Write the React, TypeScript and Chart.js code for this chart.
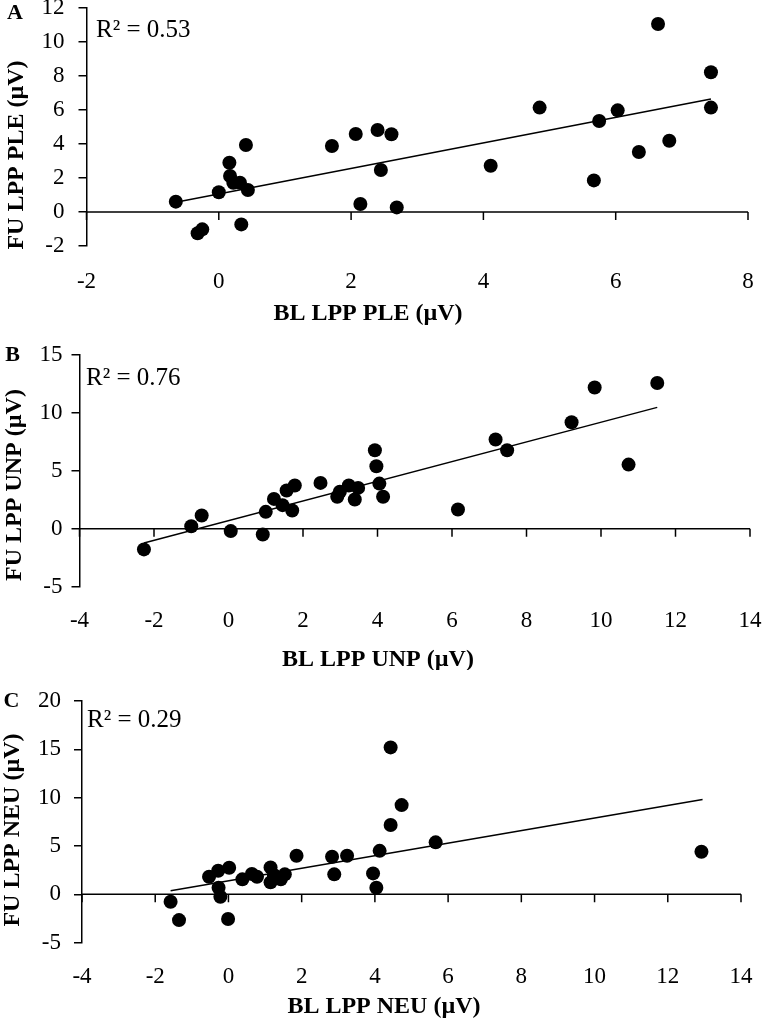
import React, { useEffect, useRef } from "react";
import { Chart, registerables } from "chart.js";

Chart.register(...registerables);

const FONT = "'Liberation Serif', 'Times New Roman', Times, serif";

// ---------- Panel A : PLE ----------
const A_BL = [-0.65, -0.32, -0.25, 0.0, 0.16, 0.17, 0.22, 0.32, 0.41, 0.44, 0.34, 1.71, 2.07, 2.14, 2.4, 2.45, 2.61, 2.69, 4.11, 4.85, 5.67, 5.75, 6.03, 6.35, 6.64, 6.81, 7.44, 7.44];
const A_FU = [0.61, -1.25, -1.02, 1.16, 2.9, 2.12, 1.72, 1.72, 3.94, 1.29, -0.73, 3.88, 4.59, 0.47, 4.82, 2.47, 4.57, 0.27, 2.72, 6.14, 1.86, 5.35, 5.98, 3.53, 11.06, 4.19, 8.22, 6.14];
const A_TREND_X = [-0.65, 7.44];
const A_TREND_Y = [0.57, 6.65];
const A_X_TICKS = [-2, 0, 2, 4, 6, 8];
const A_Y_TICKS = [-2, 0, 2, 4, 6, 8, 10, 12];

// ---------- Panel B : UNP ----------
const B_BL = [-2.27, -1.0, -0.72, 0.06, 0.92, 1.0, 1.22, 1.45, 1.56, 1.71, 1.78, 2.47, 2.92, 2.99, 3.23, 3.39, 3.48, 3.93, 3.97, 4.05, 4.15, 6.16, 7.17, 7.48, 9.21, 9.83, 10.74, 11.51];
const B_FU = [-1.78, 0.22, 1.15, -0.2, -0.49, 1.46, 2.58, 2.04, 3.3, 1.58, 3.73, 3.96, 2.76, 3.19, 3.73, 2.53, 3.53, 6.78, 5.4, 3.9, 2.76, 1.66, 7.7, 6.78, 9.19, 12.2, 5.54, 12.58];
const B_TREND_X = [-2.27, 11.51];
const B_TREND_Y = [-1.22, 10.48];
const B_X_TICKS = [-4, -2, 0, 2, 4, 6, 8, 10, 12, 14];
const B_Y_TICKS = [-5, 0, 5, 10, 15];

// ---------- Panel C : NEU ----------
const C_BL = [-1.58, -1.35, -0.53, -0.28, -0.27, -0.22, 0.02, -0.01, 0.38, 0.64, 0.78, 1.15, 1.15, 1.24, 1.43, 1.54, 1.86, 2.83, 2.89, 3.24, 3.95, 4.04, 4.13, 4.43, 4.73, 4.43, 5.66, 12.92];
const C_FU = [-0.76, -2.66, 1.82, 2.44, 0.69, -0.25, 2.75, -2.55, 1.55, 2.1, 1.82, 2.79, 1.24, 2.0, 1.55, 2.07, 3.99, 3.89, 2.07, 3.99, 2.17, 0.69, 4.5, 15.2, 9.23, 7.17, 5.38, 4.41];
const C_TREND_X = [-1.58, 12.95];
const C_TREND_Y = [0.38, 9.82];
const C_X_TICKS = [-4, -2, 0, 2, 4, 6, 8, 10, 12, 14];
const C_Y_TICKS = [-5, 0, 5, 10, 15, 20];

const R2_LABELS = ["R² = 0.53", "R² = 0.76", "R² = 0.29"];
const PANEL_LETTERS = ["A", "B", "C"];
const X_TITLES = ["BL LPP PLE (µV)", "BL LPP UNP (µV)", "BL LPP NEU (µV)"];
const Y_TITLES = ["FU LPP PLE (µV)", "FU LPP UNP (µV)", "FU LPP NEU (µV)"];

type Panel = {
  bl: number[];
  fu: number[];
  tx: number[];
  ty: number[];
  xTicks: number[];
  yTicks: number[];
  letter: string;
  r2: string;
  xTitle: string;
  yTitle: string;
  // layout (canvas coordinates)
  top: number;
  h: number;
  area: { left: number; right: number; top: number; bottom: number };
  xPad: number;
  yPad: number;
  letterPos: [number, number];
  r2Pos: [number, number];
  xTitlePos: [number, number];
  yTitlePos: [number, number];
};

const PANELS: Panel[] = [
  {
    bl: A_BL, fu: A_FU, tx: A_TREND_X, ty: A_TREND_Y, xTicks: A_X_TICKS, yTicks: A_Y_TICKS,
    letter: PANEL_LETTERS[0], r2: R2_LABELS[0], xTitle: X_TITLES[0], yTitle: Y_TITLES[0],
    top: 0, h: 330,
    area: { left: 86.5, right: 748, top: 8, bottom: 246 },
    xPad: 24.5, yPad: 14,
    letterPos: [15, 13.5], r2Pos: [96, 37], xTitlePos: [368, 314], yTitlePos: [17, 155],
  },
  {
    bl: B_BL, fu: B_FU, tx: B_TREND_X, ty: B_TREND_Y, xTicks: B_X_TICKS, yTicks: B_Y_TICKS,
    letter: PANEL_LETTERS[1], r2: R2_LABELS[1], xTitle: X_TITLES[1], yTitle: Y_TITLES[1],
    top: 330, h: 340,
    area: { left: 79.5, right: 750, top: 25, bottom: 256.7 },
    xPad: 22.8, yPad: 9,
    letterPos: [12.5, 25], r2Pos: [86, 55], xTitlePos: [378, 330], yTitlePos: [15, 155],
  },
  {
    bl: C_BL, fu: C_FU, tx: C_TREND_X, ty: C_TREND_Y, xTicks: C_X_TICKS, yTicks: C_Y_TICKS,
    letter: PANEL_LETTERS[2], r2: R2_LABELS[2], xTitle: X_TITLES[2], yTitle: Y_TITLES[2],
    top: 670, h: 350,
    area: { left: 82, right: 741, top: 31, bottom: 272.7 },
    xPad: 22.8, yPad: 13,
    letterPos: [11.5, 31.5], r2Pos: [87, 57], xTitlePos: [384, 337], yTitlePos: [13, 160],
  },
];

const decorPlugin = {
  id: "decor",
  beforeDatasetsDraw(chart: any, _args: any, opts: any) {
    const { ctx, chartArea } = chart;
    const xs = chart.scales.x;
    const ys = chart.scales.y;
    const y0 = ys.getPixelForValue(0);
    ctx.save();
    ctx.strokeStyle = "#000";
    ctx.lineWidth = 1.5;
    ctx.beginPath();
    ctx.moveTo(chartArea.left, y0);
    ctx.lineTo(chartArea.right, y0);
    xs.ticks.forEach((t: any) => {
      const px = xs.getPixelForValue(t.value);
      ctx.moveTo(px, y0);
      ctx.lineTo(px, y0 + 8);
    });
    ctx.stroke();
    ctx.restore();
  },
  afterDraw(chart: any, _args: any, opts: any) {
    const p: Panel = opts.panel;
    if (!p) return;
    const { ctx } = chart;
    ctx.save();
    ctx.fillStyle = "#000";
    // panel letter
    ctx.font = `bold 22px ${FONT}`;
    ctx.textAlign = "center";
    ctx.textBaseline = "middle";
    ctx.fillText(p.letter, p.letterPos[0], p.letterPos[1]);
    // R²
    ctx.font = `25px ${FONT}`;
    ctx.textAlign = "left";
    ctx.textBaseline = "alphabetic";
    ctx.fillText(p.r2, p.r2Pos[0], p.r2Pos[1]);
    // x title
    ctx.font = `bold 24px ${FONT}`;
    ctx.textAlign = "center";
    ctx.textBaseline = "middle";
    ctx.fillText(p.xTitle, p.xTitlePos[0], p.xTitlePos[1]);
    // y title
    ctx.translate(p.yTitlePos[0], p.yTitlePos[1]);
    ctx.rotate(-Math.PI / 2);
    ctx.fillText(p.yTitle, 0, 0);
    ctx.restore();
  },
};

function PanelChart({ p }: { p: Panel }) {
  const ref = useRef<HTMLCanvasElement>(null);
  useEffect(() => {
    if (!ref.current) return;
    const tickFont = { family: FONT, size: 23, lineHeight: 1 };
    const chart = new Chart(ref.current, {
      type: "scatter",
      data: {
        datasets: [
          {
            type: "scatter",
            data: p.bl.map((x, i) => ({ x, y: p.fu[i] })),
            backgroundColor: "#000",
            borderColor: "#000",
            borderWidth: 0,
            pointRadius: 7,
            pointHoverRadius: 7,
            order: 0,
          },
          {
            type: "line",
            data: p.tx.map((x, i) => ({ x, y: p.ty[i] })),
            borderColor: "#000",
            borderWidth: 1.5,
            pointRadius: 0,
            showLine: true,
            fill: false,
            order: 1,
          } as any,
        ],
      },
      options: {
        responsive: false,
        animation: false,
        devicePixelRatio: 1,
        events: [],
        layout: {
          padding: { top: p.area.top, left: 0, right: 763 - p.area.right, bottom: 0 },
        },
        plugins: {
          legend: { display: false },
          tooltip: { enabled: false },
          decor: { panel: p },
        } as any,
        scales: {
          x: {
            type: "linear",
            position: "bottom",
            min: p.xTicks[0],
            max: p.xTicks[p.xTicks.length - 1],
            afterBuildTicks: (s: any) => {
              s.ticks = p.xTicks.map((v) => ({ value: v }));
            },
            afterFit: (s: any) => {
              s.height = p.h - p.area.bottom;
              s.paddingLeft = 0;
              s.paddingRight = 0;
            },
            grid: { display: false, drawTicks: false },
            border: { display: false },
            ticks: {
              color: "#000",
              font: tickFont,
              padding: p.xPad,
              maxRotation: 0,
              autoSkip: false,
              callback: (v: any) => String(v),
            },
          },
          y: {
            type: "linear",
            position: "left",
            min: p.yTicks[0],
            max: p.yTicks[p.yTicks.length - 1],
            afterBuildTicks: (s: any) => {
              s.ticks = p.yTicks.map((v) => ({ value: v }));
            },
            afterFit: (s: any) => {
              s.width = p.area.left;
              s.paddingTop = 0;
              s.paddingBottom = 0;
            },
            grid: {
              drawOnChartArea: false,
              drawTicks: true,
              tickLength: 8,
              color: "#000",
              lineWidth: 1.5,
            },
            border: { display: true, color: "#000", width: 1.5 },
            ticks: {
              color: "#000",
              font: tickFont,
              padding: p.yPad,
              autoSkip: false,
              callback: (v: any) => String(v),
            },
          },
        },
      } as any,
      plugins: [decorPlugin],
    });
    return () => chart.destroy();
  }, [p]);
  return (
    <canvas
      ref={ref}
      width={763}
      height={p.h}
      style={{ position: "absolute", left: 0, top: p.top, width: 763, height: p.h, display: "block" }}
    />
  );
}

export default function App() {
  return (
    <div style={{ position: "absolute", left: 0, top: 0, width: 763, height: 1020, background: "#fff" }}>
      {PANELS.map((p, i) => (
        <PanelChart key={i} p={p} />
      ))}
    </div>
  );
}
